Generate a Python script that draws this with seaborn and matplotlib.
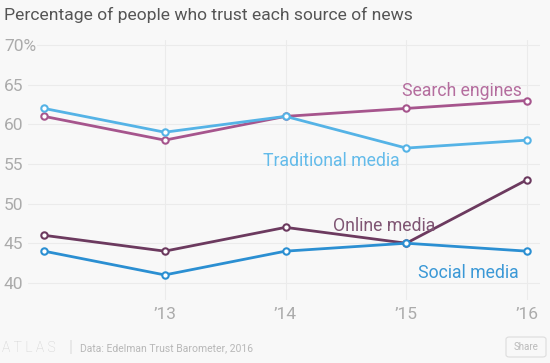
import matplotlib
matplotlib.use("Agg")
import matplotlib.pyplot as plt
from matplotlib.patches import FancyBboxPatch
import seaborn as sns
import pandas as pd

years = [2012, 2013, 2014, 2015, 2016]
tick_years = [2013, 2014, 2015, 2016]
tick_labels = ["\u201913", "\u201914", "\u201915", "\u201916"]
y_ticks = [40, 45, 50, 55, 60, 65, 70]
y_labels = ["40", "45", "50", "55", "60", "65", "70%"]

search_engines = [61, 58, 61, 62, 63]
traditional_media = [62, 59, 61, 57, 58]
online_media = [46, 44, 47, 45, 53]
social_media = [44, 41, 44, 45, 44]

series = {
    "Search engines": search_engines,
    "Traditional media": traditional_media,
    "Online media": online_media,
    "Social media": social_media,
}
colors = {
    "Search engines": "#a6558d",
    "Traditional media": "#55b3e6",
    "Online media": "#6c3a5f",
    "Social media": "#2b8fd2",
}
label_colors = {
    "Search engines": "#b46d9e",
    "Traditional media": "#63bbea",
    "Online media": "#7f5573",
    "Social media": "#3a98d6",
}

df = pd.DataFrame([
    {"year": y, "value": v, "source": name}
    for name, vals in series.items()
    for y, v in zip(years, vals)
])

bg = "#f8f8f8"
sns.set_style("white")
plt.rcParams["font.family"] = ["Roboto", "DejaVu Sans"]

fig = plt.figure(figsize=(5.5, 3.63), dpi=100, facecolor=bg)
ax = fig.add_axes([28 / 550, 1 - 300 / 363, 512 / 550, 260 / 363])
ax.set_facecolor(bg)

sns.lineplot(data=df, x="year", y="value", hue="source", palette=colors,
             marker="o", markersize=4.6, markerfacecolor="white",
             markeredgewidth=1.5, linewidth=2, legend=False, ax=ax,
             clip_on=False, zorder=3)
# marker edges follow the line colour
for line, name in zip(ax.get_lines(), series.keys()):
    line.set_markeredgecolor(colors[name])

ax.set_xlim(2011.867, 2016.108)
ax.set_ylim(37.84, 70.63)
ax.set_xticks(tick_years)
ax.set_xticklabels(tick_labels)
ax.set_yticks(y_ticks)
ax.set_yticklabels(y_labels)
ax.set_xlabel("")
ax.set_ylabel("")

ax.grid(True, color="#ebebeb", linewidth=0.8)
ax.set_axisbelow(True)
for s in ax.spines.values():
    s.set_visible(False)
ax.tick_params(axis="both", length=0, labelsize=12.5, labelcolor="#ababab")
ax.tick_params(axis="y", pad=17.3)
ax.tick_params(axis="x", pad=5)
for lab in ax.get_yticklabels():
    lab.set_ha("left")
    lab.set_bbox(dict(facecolor=bg, edgecolor="none", pad=0.5))

# series labels
ax.text(2014.965, 64.2, "Search engines", color=label_colors["Search engines"],
        fontsize=12.7, ha="left", va="center")
ax.text(2013.81, 55.37, "Traditional media", color=label_colors["Traditional media"],
        fontsize=12.7, ha="left", va="center")
ax.text(2014.39, 47.2, "Online media", color=label_colors["Online media"],
        fontsize=12.7, ha="left", va="center")
ax.text(2015.10, 41.3, "Social media", color=label_colors["Social media"],
        fontsize=12.7, ha="left", va="center")

fig.text(4 / 550, 1 - 15 / 363, "Percentage of people who trust each source of news",
         fontsize=12.6, color="#555555", ha="left", va="center")

# footer
fig.text(2 / 550, 1 - 348 / 363, "A T L A S", fontsize=10, color="#d0d0d0",
         ha="left", va="center", fontweight="light")
fig.text(71 / 550, 1 - 348 / 363, "|", fontsize=12, color="#e0e0e0",
         ha="center", va="center")
fig.text(80 / 550, 1 - 348 / 363, "Data: Edelman Trust Barometer, 2016",
         fontsize=7.5, color="#b8b8b8", ha="left", va="center")
btn = FancyBboxPatch((506 / 550, 1 - 357 / 363), 40 / 550, 20 / 363,
                     boxstyle="round,pad=0,rounding_size=0.006",
                     transform=fig.transFigure, facecolor=bg,
                     edgecolor="#dddddd", linewidth=0.8)
fig.patches.append(btn)
fig.text(526 / 550, 1 - 347 / 363, "Share", fontsize=7, color="#bbbbbb",
         ha="center", va="center")

fig.savefig("out.png", dpi=100, facecolor=bg)
